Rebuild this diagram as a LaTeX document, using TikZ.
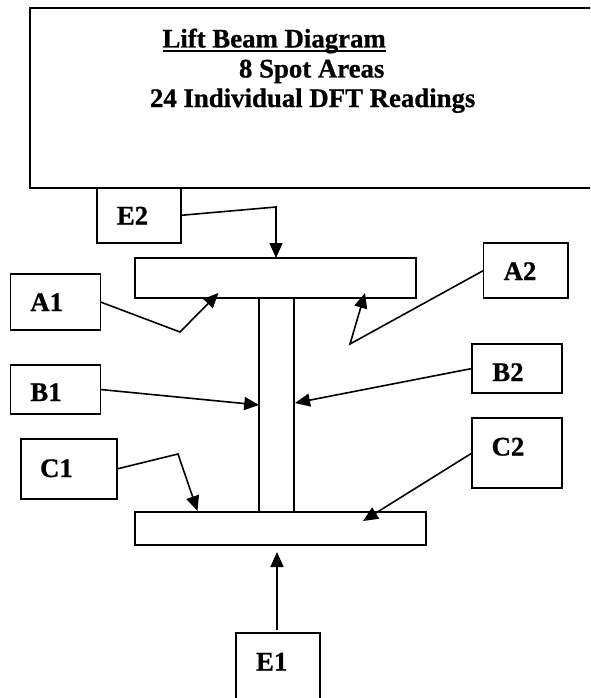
\documentclass[tikz,border=0pt]{standalone}
\usepackage{fontspec}
\setmainfont{Liberation Serif}[BoldFeatures={FakeBold=0.8}]
\usetikzlibrary{arrows.meta}
\begin{document}
\begin{tikzpicture}[x=1pt,y=-1pt,
  lbl/.style={font=\fontsize{26.8}{30}\selectfont\bfseries, anchor=base, inner sep=0pt, outer sep=0pt},
  box/.style={draw, line width=1.7pt, inner sep=0pt, outer sep=0pt, anchor=north west},
  arr/.style={line width=1.6pt, -{Triangle[length=15pt,width=13pt]}},
]
\useasboundingbox (0,0) rectangle (590,698);
\clip (0,0) rectangle (590,698);
% boxes
\node[box, minimum width=566pt, minimum height=180pt] (top) at (30,8) {};
\node[box, minimum width=84pt, minimum height=54.7pt] (E2) at (96.7,188) {};
\node[box, minimum width=90pt, minimum height=56pt] (A1) at (10.5,274) {};
\node[box, minimum width=84.5pt, minimum height=55pt] (A2) at (483.5,243) {};
\node[box, minimum width=90pt, minimum height=49pt] (B1) at (10.5,365) {};
\node[box, minimum width=90pt, minimum height=49pt] (B2) at (472,344) {};
\node[box, minimum width=96pt, minimum height=60pt] (C1) at (20.7,439) {};
\node[box, minimum width=90pt, minimum height=70pt] (C2) at (472,418) {};
\node[box, minimum width=84pt, minimum height=80pt] (E1) at (236,633) {};
% beam
\node[box, minimum width=281.3pt, minimum height=40pt] (topfl) at (134.7,258) {};
\node[box, minimum width=35pt, minimum height=214pt] (web) at (259.2,298) {};
\node[box, minimum width=291.3pt, minimum height=33pt] (botfl) at (134.7,512) {};
% title
\node[lbl, anchor=base west] (t1) at (162.5,47.5) {Lift Beam Diagram};
\draw[line width=1.6pt] ([yshift=-3.5pt]t1.base west) -- ([yshift=-3.5pt]t1.base east);
\node[lbl, anchor=base west] (t2) at (239,77.5) {8 Spot Areas};
\node[lbl, anchor=base west] (t3) at (150,107) {24 Individual DFT Readings};
% labels
\node[lbl] (lE2) at (132.5,224.5) {E2};
\node[lbl] (lA1) at (46.7,311) {A1};
\node[lbl] (lA2) at (520,280) {A2};
\node[lbl] (lB1) at (46,401) {B1};
\node[lbl] (lB2) at (508,381) {B2};
\node[lbl] (lC1) at (56.4,477) {C1};
\node[lbl] (lC2) at (508,455.5) {C2};
\node[lbl] (lE1) at (271.7,670.5) {E1};
% connector points
\coordinate (kE2) at (276,207);
\coordinate (kA1) at (180,332);
\coordinate (pA1) at (218.5,293);
\coordinate (kA2) at (350,344);
\coordinate (pA2) at (365,293);
\coordinate (pB1) at (259.2,405);
\coordinate (pB2) at (295,403);
\coordinate (kC1) at (178,454);
\coordinate (pC1) at (197.5,511);
\coordinate (pC2) at (363,521);
\coordinate (pE1) at (277,552);
% connectors
\draw[arr] (E2.east) -- (kE2) -- (kE2 |- topfl.north);
\draw[arr] (A1.east) -- (kA1) -- (pA1);
\draw[arr] (A2.west) -- (kA2) -- (pA2);
\draw[arr] (B1.east) -- (pB1);
\draw[arr] (B2.west) -- (pB2);
\draw[arr] (C1.east) -- (kC1) -- (pC1);
\draw[arr] (C2.west) -- (pC2);
\draw[arr] ([yshift=3pt]pE1 |- E1.north) -- (pE1);
\end{tikzpicture}
\end{document}
